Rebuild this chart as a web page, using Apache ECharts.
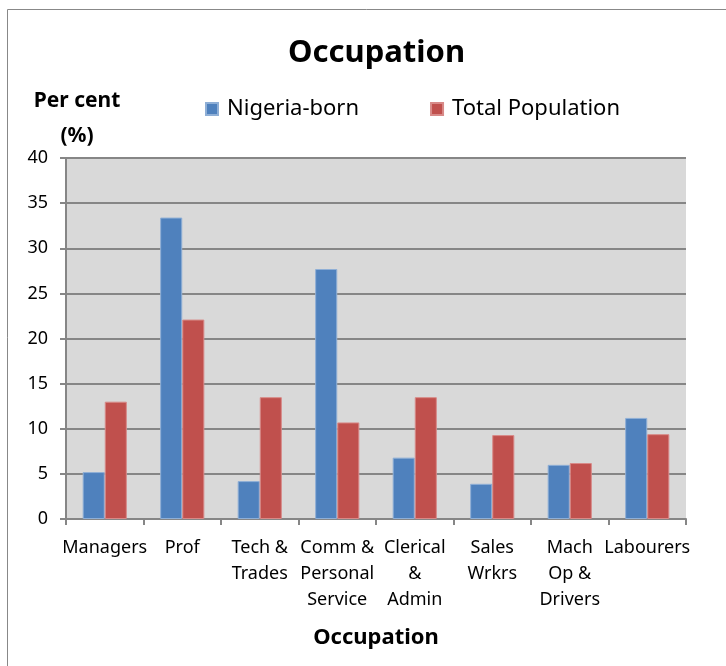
<!DOCTYPE html>
<html>
<head>
<meta charset="utf-8">
<script src="https://cdn.jsdelivr.net/npm/echarts@6/dist/echarts.min.js"></script>
<style>
html,body{margin:0;padding:0;background:#fff;}
#c{width:726px;height:666px;}
</style>
</head>
<body>
<div id="c"></div>
<script>
const categories = ["Managers", "Prof", "Tech &\nTrades", "Comm &\nPersonal\nService", "Clerical\n&\nAdmin", "Sales\nWrkrs", "Mach\nOp &\nDrivers", "Labourers"];
const nigeriaBorn = [5.2, 33.4, 4.2, 27.7, 6.8, 3.9, 6.0, 11.2];
const totalPopulation = [13.0, 22.1, 13.5, 10.7, 13.5, 9.3, 6.2, 9.4];
const seriesNames = ["Nigeria-born", "Total Population"];
const yAxisTitle = "Per cent\n(%)";

const FONT = "Noto Sans";
const chart = echarts.init(document.getElementById('c'), null, {renderer: 'canvas'});
chart.setOption({
  animation: false,
  textStyle: {fontFamily: FONT, color: '#000'},
  title: [{
    text: 'Occupation',
    left: 283,
    top: 33,
    textStyle: {fontFamily: FONT, fontSize: 31, fontWeight: 'bold', color: '#000'}
  }, {
    text: yAxisTitle,
    left: 77,
    top: 84,
    padding: 0,
    textAlign: 'center',
    textStyle: {fontFamily: FONT, fontSize: 21, fontWeight: 'bold', color: '#000', lineHeight: 35, align: 'center'}
  }],
  graphic: [
    {type: 'line', shape: {x1: 7.5, y1: 9.5, x2: 726, y2: 9.5}, style: {stroke: '#888', lineWidth: 1}},
    {type: 'line', shape: {x1: 7.5, y1: 9.5, x2: 7.5, y2: 666}, style: {stroke: '#888', lineWidth: 1}}
  ],
  legend: {
    data: seriesNames,
    top: 93,
    left: 200,
    itemWidth: 12,
    itemHeight: 12,
    itemGap: 71,
    icon: 'rect',
    textStyle: {fontFamily: FONT, fontSize: 22, color: '#000', padding: [0, 0, 0, 4]}
  },
  grid: {left: 66, right: 40, top: 158, bottom: 147, containLabel: false,
         show: true, backgroundColor: '#d9d9d9', borderWidth: 0},
  xAxis: {
    type: 'category',
    data: categories,
    name: 'Occupation',
    nameLocation: 'middle',
    nameGap: 108,
    nameTextStyle: {fontFamily: FONT, fontSize: 22, fontWeight: 'bold', color: '#000'},
    axisLine: {lineStyle: {color: '#868686', width: 2}},
    axisTick: {show: true, alignWithLabel: false, length: 6, lineStyle: {color: '#868686', width: 2}},
    axisLabel: {interval: 0, fontFamily: FONT, fontSize: 18, lineHeight: 26, color: '#000', margin: 16}
  },
  yAxis: {
    type: 'value',
    min: 0,
    max: 40,
    interval: 5,
    axisLine: {show: true, lineStyle: {color: '#868686', width: 2}},
    axisTick: {show: true, inside: false, length: 6, lineStyle: {color: '#868686', width: 2}},
    axisLabel: {fontFamily: FONT, fontSize: 18, color: '#000', margin: 18},
    splitLine: {lineStyle: {color: '#868686', width: 2}}
  },
  series: [
    {name: seriesNames[0], type: 'bar', data: nigeriaBorn, barGap: '0%', barCategoryGap: '43%',
     itemStyle: {color: '#4f81bd', borderColor: '#8fafd6', borderWidth: 1}},
    {name: seriesNames[1], type: 'bar', data: totalPopulation, barGap: '0%', barCategoryGap: '43%',
     itemStyle: {color: '#c0504d', borderColor: '#d88a88', borderWidth: 1}}
  ]
});
</script>
</body>
</html>
